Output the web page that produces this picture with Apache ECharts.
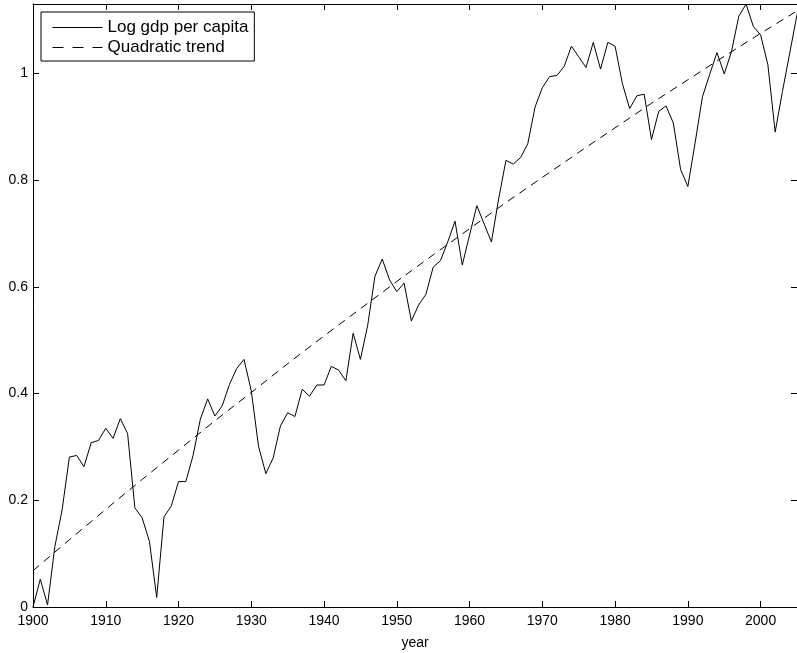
<!DOCTYPE html>
<html>
<head>
<meta charset="utf-8">
<script src="https://cdn.jsdelivr.net/npm/echarts@6/dist/echarts.min.js"></script>
<style>
html,body{margin:0;padding:0;background:#fff;}
#chart{width:797px;height:653px;}
</style>
</head>
<body>
<div id="chart"></div>
<script>
var startYear = 1900;
var gdpValues = [
 0.000, 0.052, 0.004, 0.113, 0.182, 0.281, 0.284, 0.263, 0.308, 0.312,
 0.335, 0.316, 0.353, 0.325, 0.186, 0.167, 0.123, 0.018, 0.169, 0.189,
 0.235, 0.235, 0.284, 0.352, 0.390, 0.358, 0.377, 0.417, 0.447, 0.464,
 0.405, 0.301, 0.250, 0.279, 0.339, 0.364, 0.357, 0.408, 0.395, 0.416,
 0.416, 0.451, 0.444, 0.424, 0.513, 0.464, 0.528, 0.620, 0.652, 0.613,
 0.591, 0.607, 0.536, 0.566, 0.586, 0.637, 0.649, 0.684, 0.723, 0.641,
 0.697, 0.752, 0.718, 0.684, 0.765, 0.837, 0.830, 0.842, 0.868, 0.937,
 0.973, 0.994, 0.996, 1.013, 1.051, 1.031, 1.011, 1.058, 1.008, 1.058,
 1.051, 0.981, 0.934, 0.958, 0.961, 0.876, 0.929, 0.939, 0.907, 0.820,
 0.788, 0.870, 0.956, 0.998, 1.039, 0.999, 1.041, 1.107, 1.130, 1.088,
 1.072, 1.016, 0.890, 0.966, 1.038, 1.110
];
var trendYears = [1900,1905,1910,1915,1920,1925,1930,1935,1940,1945,1950,1955,1960,1965,1970,1975,1980,1985,1990,1995,2000,2005];
var trendValues = [0.068,0.126,0.183,0.239,0.294,0.349,0.402,0.456,0.508,0.559,0.610,0.660,0.709,0.758,0.805,0.852,0.898,0.944,0.988,1.032,1.075,1.117];
var yTicks = [0, 0.2, 0.4, 0.6, 0.8, 1];
var seriesNames = ['Log gdp per capita', 'Quadratic trend'];

var gdpData = gdpValues.map(function(v, i){ return [startYear + i, v]; });
var trendData = trendValues.map(function(v, i){ return [trendYears[i], v]; });

var FONT = 'Liberation Sans, Arial, Helvetica, sans-serif';
var chart = echarts.init(document.getElementById('chart'), null, {renderer: 'canvas'});

function baseX(extra){
  return Object.assign({
    type: 'value', min: 1900, max: 2005, interval: 10,
    axisLine: {show: true, onZero: false, lineStyle: {color: '#000', width: 1}},
    axisTick: {show: true, inside: true, length: 6, lineStyle: {color: '#000', width: 1}},
    splitLine: {show: false},
    axisLabel: {show: false}
  }, extra);
}
function baseY(extra){
  return Object.assign({
    type: 'value', min: 0, max: 1.13, interval: 0.2,
    axisLine: {show: true, onZero: false, lineStyle: {color: '#000', width: 1}},
    axisTick: {show: true, inside: true, length: 6, lineStyle: {color: '#000', width: 1}},
    splitLine: {show: false},
    axisLabel: {show: false}
  }, extra);
}

chart.setOption({
  animation: false,
  backgroundColor: '#fff',
  textStyle: {fontFamily: FONT},
  grid: {left: 33, right: 0, top: 4, bottom: 46, containLabel: false, outerBoundsMode: 'none'},
  legend: {
    left: 41, top: 12, orient: 'vertical',
    data: [
      {name: seriesNames[0], lineStyle: {width: 1}},
      {name: seriesNames[1], lineStyle: {width: 1, type: [11, 9]}}
    ],
    itemWidth: 50, itemHeight: 14, itemGap: 3,
    padding: [7, 6, 5, 11],
    borderColor: '#000', borderWidth: 1, backgroundColor: '#fff',
    itemStyle: {opacity: 0},
    lineStyle: {width: 1},
    textStyle: {fontFamily: FONT, fontSize: 17, color: '#000'}
  },
  xAxis: [
    baseX({
      position: 'bottom',
      name: 'year', nameLocation: 'middle', nameGap: 29,
      nameTextStyle: {fontFamily: FONT, fontSize: 14, color: '#000'},
      axisLabel: {show: true, margin: 7, fontFamily: FONT, fontSize: 14, color: '#000', showMaxLabel: false,
        formatter: function(v){ return String(v); }}
    }),
    baseX({position: 'top'})
  ],
  yAxis: [
    baseY({
      position: 'left',
      axisLabel: {show: true, margin: 5, fontFamily: FONT, fontSize: 14, color: '#000', showMaxLabel: false,
        formatter: function(v){
          for (var i = 0; i < yTicks.length; i++) { if (Math.abs(v - yTicks[i]) < 1e-6) return String(yTicks[i]); }
          return '';
        }}
    }),
    baseY({position: 'right'})
  ],
  series: [
    {
      name: seriesNames[0], type: 'line', data: gdpData,
      xAxisIndex: 0, yAxisIndex: 0,
      showSymbol: false, symbol: 'none',
      lineStyle: {color: '#000', width: 1},
      itemStyle: {color: '#000'}
    },
    {
      name: seriesNames[1], type: 'line', data: trendData,
      xAxisIndex: 0, yAxisIndex: 0,
      showSymbol: false, symbol: 'none',
      lineStyle: {color: '#000', width: 1, type: [8, 6]},
      itemStyle: {color: '#000'}
    }
  ]
});
</script>
</body>
</html>
